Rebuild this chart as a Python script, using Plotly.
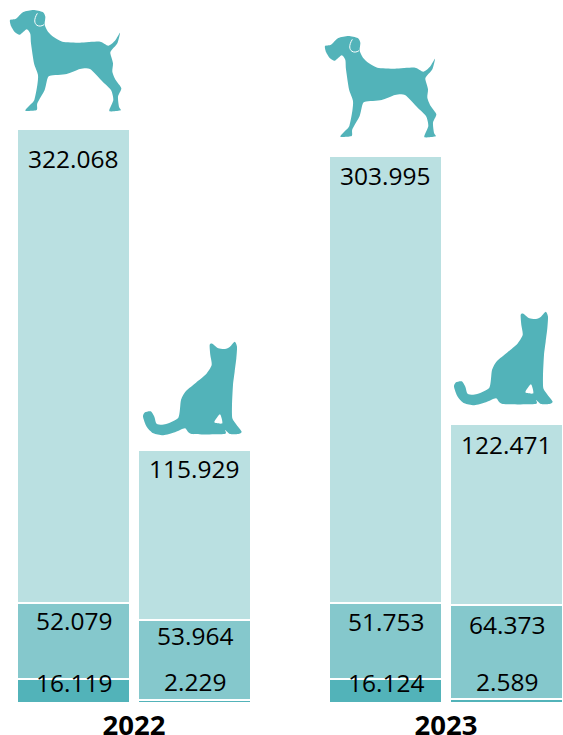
import plotly.graph_objects as go

# Data
years = ["2022", "2023"]
animals = ["Dog", "Cat"]
bar_labels = ["Dog 2022", "Cat 2022", "Dog 2023", "Cat 2023"]
bottom_values = [16119, 2229, 16124, 2589]
middle_values = [52079, 53964, 51753, 64373]
top_values = [322068, 115929, 303995, 122471]

# Styles and layout
COLORS = ["#52B3B9", "#85C8CC", "#BAE0E1"]
ICON = "#52B3B9"
W, H, BOTTOM = 563, 735, 32
PITCH = 121.0            # px between neighbouring bars
GROUP_STEP = 312.0 / PITCH
BAR_WIDTH = 113.0 / PITCH
FONT = "Open Sans"
PX_PER_UNIT = 574 / 390266

x_pos = [g * GROUP_STEP + a for g in range(len(years)) for a in range(len(animals))]
group_centres = [g * GROUP_STEP + 0.5 for g in range(len(years))]

fig = go.Figure()
for vals, col in zip([bottom_values, middle_values, top_values], COLORS):
    fig.add_bar(x=x_pos, y=vals, width=BAR_WIDTH, marker=dict(color=col, line=dict(color="white", width=2)),
                hovertext=bar_labels, showlegend=False)

# Value labels: pixel offset below the top of each segment
offs = {
    "bottom": [3, -18, 3, -18],
    "middle": [18, 15, 18, 20],
    "top": [29.5, 18.6, 19.4, 20],
}
for i, x in enumerate(x_pos):
    b, m, t = bottom_values[i], middle_values[i], top_values[i]
    for val, top, off in [(b, b, offs["bottom"][i]), (m, b + m, offs["middle"][i]), (t, b + m + t, offs["top"][i])]:
        text = f"{val:,}".replace(",", ".")
        fig.add_annotation(x=x, y=top, yshift=-off, text=text, showarrow=False, yanchor="middle",
                           font=dict(family=FONT, size=24.5, color="#000000"))


def smooth(pts, ox, oy, sx, ref_w=W, ref_h=H - BOTTOM, k=0.11):
    p = [((ox + a / sx) / ref_w, 1 - (oy + c / sx) / ref_h) for a, c in pts]
    n = len(p)
    d = f"M{p[0][0]:.5f},{p[0][1]:.5f}"
    for i in range(n):
        p0, p1, p2, p3 = p[i - 1], p[i], p[(i + 1) % n], p[(i + 2) % n]
        c1 = (p1[0] + (p2[0] - p0[0]) * k, p1[1] + (p2[1] - p0[1]) * k)
        c2 = (p2[0] - (p3[0] - p1[0]) * k, p2[1] - (p3[1] - p1[1]) * k)
        d += f" C{c1[0]:.5f},{c1[1]:.5f} {c2[0]:.5f},{c2[1]:.5f} {p2[0]:.5f},{p2[1]:.5f}"
    return d + " Z"


dog = [(30, 60), (48, 56), (70, 36), (100, 30), (128, 36), (136, 50), (134, 74), (144, 95), (162, 112), (187, 125),
       (240, 128), (300, 125), (325, 137), (345, 122), (360, 98), (352, 130), (335, 150), (331, 160), (339, 190),
       (337, 215), (347, 240), (364, 265), (354, 290), (357, 320), (362, 331), (328, 333), (340, 300), (333, 270),
       (308, 245), (270, 207), (240, 207), (200, 222), (150, 227), (142, 237), (134, 270), (112, 310), (110, 330),
       (76, 332), (90, 315), (103, 300), (112, 255), (114, 225), (102, 190), (93, 130), (91, 102), (80, 88),
       (60, 104), (45, 97), (33, 78)]
ear = [(112, 40), (92, 72), (115, 86), (132, 74)]
cat = [(224, 30), (232, 26), (250, 40), (270, 42), (285, 35), (299, 20), (306, 35), (304, 70), (299, 110), (294, 150),
       (291, 210), (292, 250), (305, 270), (320, 290), (310, 297), (285, 297), (270, 285), (268, 297), (170, 297),
       (150, 280), (120, 292), (85, 301), (55, 295), (35, 275), (24, 245), (30, 232), (47, 229), (58, 245), (65, 266),
       (90, 268), (130, 248), (138, 195), (153, 168), (183, 143), (213, 118), (230, 90), (226, 60)]
notch = [(255, 238), (262, 265), (238, 262)]

shapes = []
for ox, oy in [(0, 0), (315, 26)]:
    shapes.append(dict(type="path", path=smooth(dog, ox, oy, 3), fillcolor=ICON, line=dict(width=0), xref="paper", yref="paper"))
    q = [((ox + a / 3) / W, 1 - (oy + c / 3) / (H - BOTTOM)) for a, c in ear]
    d = f"M{q[0][0]:.5f},{q[0][1]:.5f} C{q[1][0]:.5f},{q[1][1]:.5f} {q[2][0]:.5f},{q[2][1]:.5f} {q[3][0]:.5f},{q[3][1]:.5f}"
    shapes.append(dict(type="path", path=d, line=dict(color="white", width=1), xref="paper", yref="paper"))
for ox, oy in [(135, 335), (446, 305)]:
    shapes.append(dict(type="path", path=smooth(cat, ox, oy, 3), fillcolor=ICON, line=dict(width=0), xref="paper", yref="paper"))
    shapes.append(dict(type="path", path=smooth(notch, ox, oy, 3), fillcolor="white", line=dict(width=0), xref="paper", yref="paper"))

fig.update_layout(
    width=W, height=H, barmode="stack", autosize=False,
    margin=dict(l=0, r=0, t=0, b=BOTTOM, autoexpand=False),
    paper_bgcolor="white", plot_bgcolor="white", shapes=shapes,
    xaxis=dict(range=[-73.5 / PITCH, (W - 73.5) / PITCH], tickmode="array", tickvals=group_centres, automargin=False,
               ticktext=[f"<b>{y}</b>" for y in years], showgrid=False, zeroline=False, showline=False,
               ticks="", ticklen=0, ticklabelstandoff=3, tickfont=dict(family=FONT, size=27.5, color="#000000")),
    yaxis=dict(range=[0, (H - BOTTOM) / PX_PER_UNIT], visible=False),
)
fig.write_html("out.html", config={"displayModeBar": False},
               post_script="document.body.style.margin='0';document.documentElement.style.overflow='hidden';")
